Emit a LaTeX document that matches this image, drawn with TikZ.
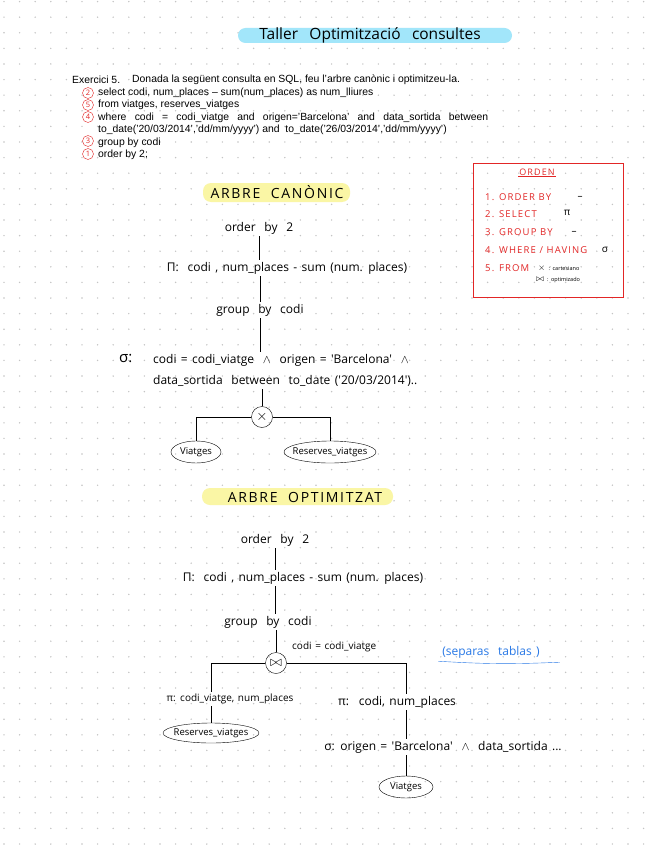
\documentclass[tikz,border=0pt]{standalone}
\usepackage{fontspec}
\setmainfont{Liberation Sans}
\newfontfamily\hand[WordSpace=1.4]{Open Sans}
\newfontfamily\handcaps[LetterSpace=12]{Open Sans}
\usetikzlibrary{shapes.geometric}
\definecolor{redpen}{RGB}{226,38,38}
\definecolor{bluepen}{RGB}{40,120,230}
\definecolor{cyanmark}{RGB}{162,230,250}
\definecolor{yellowmark}{RGB}{250,246,165}
\definecolor{dotgray}{RGB}{196,196,196}
\begin{document}
\begin{tikzpicture}[x=1pt,y=-1pt,
  enun/.style={anchor=west,inner sep=0pt,font=\fontsize{10.4}{12}\selectfont},
  numcirc/.style={circle,draw=redpen,text=redpen,minimum size=11pt,inner sep=0pt,font=\hand\fontsize{7.5}{7.5}\selectfont},
  hand/.style={inner sep=2pt,font=\hand\fontsize{12}{14}\selectfont},
  hsmall/.style={inner sep=2pt,font=\hand\fontsize{10}{12}\selectfont},
  hcaps/.style={inner sep=1pt,font=\handcaps\fontsize{14}{16}\selectfont},
  ordtxt/.style={anchor=west,inner sep=0pt,text=redpen,font=\handcaps\fontsize{9.5}{11}\selectfont},
  ordsym/.style={inner sep=0pt,font=\hand\fontsize{10}{11}\selectfont},
  ordnote/.style={anchor=west,inner sep=0pt,font=\hand\fontsize{5.5}{6}\selectfont},
  opnode/.style={circle,draw,minimum size=21pt,inner sep=0pt,font=\fontsize{15}{15}\selectfont},
  rel/.style={ellipse,draw,inner sep=0pt,minimum height=22pt,font=\hand\fontsize{9.5}{11}\selectfont}]
\useasboundingbox (0,0) rectangle (656,848);
\fill[white] (0,0) rectangle (656,848);
%dot grid
\foreach \i in {0,...,42}
  \foreach \j in {0,...,54}
    \fill[dotgray] (4+15.6*\i,1.6+15.6*\j) circle (0.8pt);

%title
\fill[cyanmark,rounded corners=7.5pt] (238,28) rectangle (512,43);
\node[inner sep=0pt,font=\hand\fontsize{15.5}{17}\selectfont] (titol) at (370,35) {Taller \ Optimització \ consultes};

%statement
\node[enun] (ex0) at (72,80) {Exercici 5.};
\node[enun] (ex1) at (132,80) {Donada la següent consulta en SQL, feu l'arbre canònic i optimitzeu-la.};
\node[enun] (ex2) at (98,93) {select codi, num\_places – sum(num\_places) as num\_lliures};
\node[enun] (ex3) at (98,105) {from viatges, reserves\_viatges};
\node[enun] (ex4) at (98,118) {\makebox[390pt][s]{where codi = codi\_viatge and origen='Barcelona' and data\_sortida between}};
\node[enun] (ex5) at (98,130) {to\_date('20/03/2014','dd/mm/yyyy') and\ \ to\_date('26/03/2014','dd/mm/yyyy')};
\node[enun] (ex6) at (98,143) {group by codi};
\node[enun] (ex7) at (98,155) {order by 2;};
%order of execution
\node[numcirc] (n2) at (88,93) {2};
\node[numcirc] (n5) at (88,105) {5};
\node[numcirc] (n4) at (88,117) {4};
\node[numcirc] (n3) at (88,141) {3};
\node[numcirc] (n1) at (88,154) {1};

%ORDEN box
\draw[redpen,thick] (473,163) rectangle (623,297);
\node[inner sep=1pt,text=redpen,font=\handcaps\fontsize{9}{10}\selectfont] (ordt) at (537,172) {ORDEN};
\draw[redpen] (ordt.south west) -- (ordt.south east);
\node[ordtxt] (o1) at (485,197) {1. ORDER BY};
\node[ordsym] (o1s) at (580,198) {–};
\node[ordtxt] (o2) at (485,214) {2. SELECT};
\node[ordsym] (o2s) at (567,213) {π};
\node[ordtxt] (o3) at (485,232) {3. GROUP BY};
\node[ordsym] (o3s) at (574,233) {–};
\node[ordtxt] (o4) at (485,250) {4. WHERE / HAVING};
\node[ordsym] (o4s) at (605,250) {σ};
\node[ordnote] (o5a) at (538,268) {\fontsize{9}{9}\selectfont$\times$ \fontsize{5.5}{6}\selectfont: cartesiano};
\node[ordnote] (o5b) at (536,280) {\fontsize{9}{9}\selectfont$\bowtie$ \fontsize{5.5}{6}\selectfont: optimizado};
\node[ordtxt] (o5) at (485,268) {5. FROM};

%canonical tree
\fill[yellowmark,rounded corners=8pt] (203,183) rectangle (350,202);
\node[hcaps] (t1) at (277,192) {ARBRE \ CANÒNIC};
\node[hand] (ob1) at (259,228) {order \ by \ 2};
\node[hand] (pj1) at (287,268) {Π: \ codi , num\_places - sum (num. places)};
\node[hand] (gb1) at (260,310) {group \ by \ codi};
\node[hand,anchor=west] (sg1) at (117,358) {\fontsize{15}{15}\selectfont σ:};
\node[hand,anchor=west] (sl1) at (151,360) {codi = codi\_viatge \ $\wedge$ \ origen = 'Barcelona' \ $\wedge$};
\node[hand,anchor=west] (sl2) at (151,381) {data\_sortida \ between \ to\_date ('20/03/2014')..};
\node[opnode] (cx1) at (262,417) {$\times$};
\node[rel,minimum width=50pt] (vi1) at (196,452) {\makebox[0pt]{Viatges}};
\node[rel,minimum width=92pt] (rv1) at (330,452) {\makebox[0pt]{Reserves\_viatges}};
\draw (ob1.south) -- (ob1.south |- pj1.north);
\draw (gb1.north) -- (gb1.north |- pj1.south);
\draw (gb1.south) -- (gb1.south |- sl1.north);
\draw (cx1.north) -- (cx1.north |- sl2.south);
\draw (cx1.west) -| (vi1.north);
\draw (cx1.east) -| (rv1.north);

%optimised tree
\fill[yellowmark,rounded corners=8pt] (202,488) rectangle (393,505);
\node[hcaps] (t2) at (305,497) {ARBRE \ OPTIMITZAT};
\node[hand] (ob2) at (275,540) {order \ by \ 2};
\node[hand] (pj2) at (303,578) {Π: \ codi , num\_places - sum (num. places)};
\node[hand] (gb2) at (268,622) {group \ by \ codi};
\node[opnode] (jn2) at (276,663) {$\bowtie$};
\node[hsmall,anchor=west] (cond2) at (290,647) {codi = codi\_viatge};
\node[hsmall] (pl2) at (230,699) {π: codi\_viatge, num\_places};
\node[rel,minimum width=96pt,minimum height=20pt] (rv2) at (211,733) {\makebox[0pt]{Reserves\_viatges}};
\node[hand] (pr2) at (397,702) {π: \ codi, num\_places};
\node[hand] (sr2) at (443,747) {σ: origen = 'Barcelona' \ $\wedge$ \ data\_sortida ...};
\node[rel,minimum width=54pt] (vi2) at (406,787) {\makebox[0pt]{Viatges}};
\draw (ob2.south) -- (ob2.south |- pj2.north);
\draw (ob2.south |- pj2.south) -- (ob2.south |- gb2.north);
\draw (jn2.north) -- (jn2.north |- gb2.south);
\draw (jn2.west) -| (rv2.north |- pl2.north);
\draw (rv2.north) -- (rv2.north |- pl2.south);
\draw (jn2.east) -| (vi2.north |- pr2.north);
\draw (vi2.north |- pr2.south) -- (vi2.north |- sr2.north);
\draw (vi2.north) -- (vi2.north |- sr2.south);

%note
\node[hand,text=bluepen] (nota) at (491,652) {(separas \ tablas )};
\draw[bluepen] ([xshift=-2pt,yshift=-1pt]nota.south west) to[bend right=3] ([xshift=18pt,yshift=-2pt]nota.south east);
\end{tikzpicture}
\end{document}
